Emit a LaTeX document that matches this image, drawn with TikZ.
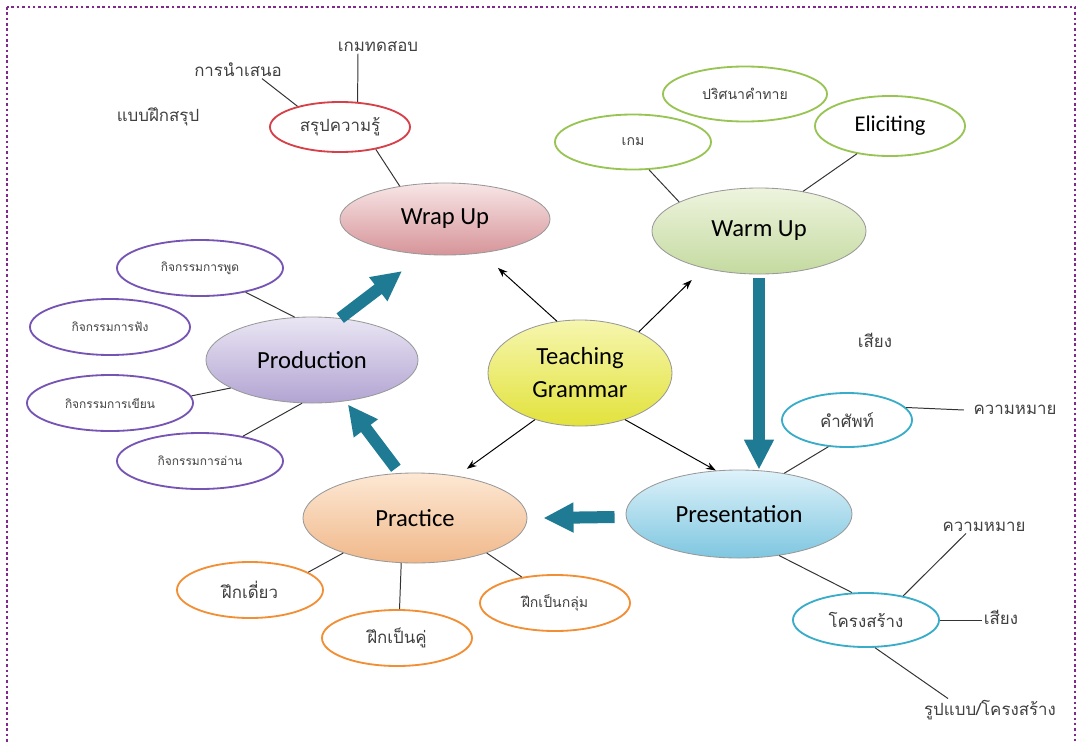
\documentclass[tikz,border=0pt]{standalone}
\usepackage{fontspec}
\setmainfont{Carlito}
\newfontfamily\thaifont[Script=Thai]{Loma}
\usetikzlibrary{shapes.geometric, arrows.meta, calc}

\definecolor{flowteal}{RGB}{31,122,148}
\definecolor{framepurple}{RGB}{128,40,140}
\definecolor{wrapA}{RGB}{248,230,230}
\definecolor{wrapB}{RGB}{214,148,153}
\definecolor{warmA}{RGB}{238,244,222}
\definecolor{warmB}{RGB}{196,218,160}
\definecolor{tgA}{RGB}{246,246,175}
\definecolor{tgB}{RGB}{226,226,60}
\definecolor{prodA}{RGB}{234,230,244}
\definecolor{prodB}{RGB}{178,164,210}
\definecolor{pracA}{RGB}{253,232,212}
\definecolor{pracB}{RGB}{240,184,138}
\definecolor{presA}{RGB}{222,242,250}
\definecolor{presB}{RGB}{126,198,224}
\definecolor{leafred}{RGB}{214,64,72}
\definecolor{leafgreen}{RGB}{152,196,84}
\definecolor{leafpurple}{RGB}{118,84,180}
\definecolor{leaforange}{RGB}{242,142,52}
\definecolor{leafcyan}{RGB}{56,172,200}

\newcommand\thaimid{\thaifont\fontsize{12}{14}\selectfont}
\newcommand\thaismall{\thaifont\fontsize{10}{12}\selectfont}
\newcommand\thaitiny{\thaifont\fontsize{8.5}{10}\selectfont}

\tikzset{
  topic/.style={ellipse, draw=black!40, line width=0.6pt, inner sep=0pt, font=\fontsize{17.5}{23.5}\selectfont},
  leaf/.style={ellipse, draw, line width=1.3pt, fill=white, inner sep=0pt, text=black!75},
  leaftext/.style={text=black!75, inner sep=1pt},
  link/.style={black!80, line width=0.7pt},
  pointer/.style={-{Stealth[length=7pt,width=5pt]}, black, line width=0.7pt},
  flow/.style={-{Triangle[length=0.75cm,width=0.7cm]}, flowteal, line width=0.3cm},
}

\begin{document}
\begin{tikzpicture}[x=0.025cm, y=-0.025cm]
	\useasboundingbox (0,0) rectangle (1080,744);
	\draw[framepurple, line width=1.8pt, dotted] (7,7) rectangle (1075,770);

	% stages
	\node[topic, top color=wrapA, bottom color=wrapB, minimum width=5.25cm, minimum height=1.8cm] (wrapup) at (445,219) {Wrap Up};
	\node[topic, top color=warmA, bottom color=warmB, minimum width=5.35cm, minimum height=2.15cm] (warmup) at (759,231) {Warm Up};
	\node[topic, top color=tgA, bottom color=tgB, minimum width=4.6cm, minimum height=2.65cm, align=center] (grammar) at (580,373) {Teaching\\Grammar};
	\node[topic, top color=prodA, bottom color=prodB, minimum width=5.3cm, minimum height=2.15cm] (production) at (312,360) {Production};
	\node[topic, top color=pracA, bottom color=pracB, minimum width=5.6cm, minimum height=2.25cm] (practice) at (415,518) {Practice};
	\node[topic, top color=presA, bottom color=presB, minimum width=5.65cm, minimum height=2.2cm] (presentation) at (739,514) {Presentation};

	% wrap up
	\node[leaf, draw=leafred, minimum width=3.5cm, minimum height=1.25cm, font=\thaimid] (sarup) at (340,127) {สรุปความรู้};
	\node[leaftext, font=\thaimid] (kemtest) at (378,47) {เกมทดสอบ};
	\node[leaftext, font=\thaimid] (namesanoe) at (238,70) {การนำเสนอ};
	\node[leaftext, font=\thaimid] (baepfuek) at (158,117) {แบบฝึกสรุป};

	% warm up
	\node[leaf, draw=leafgreen, minimum width=3.9cm, minimum height=1.375cm, font=\thaismall] (kem) at (633,142) {เกม};
	\node[leaf, draw=leafgreen, minimum width=4.1cm, minimum height=1.375cm, font=\thaismall] (prisana) at (745,94) {ปริศนาคำทาย};
	\node[leaf, draw=leafgreen, minimum width=3.75cm, minimum height=1.5cm, text=black, font=\fontsize{16}{18}\selectfont] (eliciting) at (890,126) {Eliciting};

	% production
	\node[leaf, draw=leafpurple, minimum width=4.15cm, minimum height=1.4cm, font=\thaitiny] (phut) at (200,268) {กิจกรรมการพูด};
	\node[leaf, draw=leafpurple, minimum width=4.0cm, minimum height=1.4cm, font=\thaitiny] (fang) at (110,327) {กิจกรรมการฟัง};
	\node[leaf, draw=leafpurple, minimum width=4.15cm, minimum height=1.4cm, font=\thaitiny] (khian) at (110,403) {กิจกรรมการเขียน};
	\node[leaf, draw=leafpurple, minimum width=4.15cm, minimum height=1.4cm, font=\thaitiny] (an) at (200,461) {กิจกรรมการอ่าน};

	% practice
	\node[leaf, draw=leaforange, minimum width=3.65cm, minimum height=1.4cm, font=\thaimid] (diao) at (250,590) {ฝึกเดี่ยว};
	\node[leaf, draw=leaforange, minimum width=3.75cm, minimum height=1.4cm, font=\thaimid] (khu) at (397,638) {ฝึกเป็นคู่};
	\node[leaf, draw=leaforange, minimum width=3.75cm, minimum height=1.4cm, font=\thaismall] (klum) at (555,603) {ฝึกเป็นกลุ่ม};

	% presentation
	\node[leaf, draw=leafcyan, minimum width=3.25cm, minimum height=1.35cm, font=\thaimid] (kamsap) at (847,420) {คำศัพท์};
	\node[leaf, draw=leafcyan, minimum width=3.65cm, minimum height=1.35cm, font=\thaimid] (khrongsang) at (866,620) {โครงสร้าง};
	\node[leaftext, font=\thaimid] (siang) at (875,340) {เสียง};
	\node[leaftext, font=\thaimid] (khwammai) at (1015,410) {ความหมาย};
	\node[leaftext, font=\thaimid] (khwammaib) at (984,527) {ความหมาย};
	\node[leaftext, font=\thaimid] (siangb) at (1001,617) {เสียง};
	\node[leaftext, font=\thaimid] (rupbaep) at (990,710) {รูปแบบ/โครงสร้าง};

	% links
	\draw[link] ([xshift=-0.5cm]kemtest.south) -- (sarup.55);
	\draw[link] ([xshift=0.6cm]namesanoe.south) -- (sarup.154);
	\draw[link] (sarup.-32) -- (wrapup.144);
	\draw[link] (kem.-60) -- (warmup.160);
	\draw[link] (eliciting.-140) -- (warmup.42);
	\draw[link] (phut.-28) -- (production.112);
	\draw[link] (khian.5) -- (production.199);
	\draw[link] (an.30) -- (production.257);
	\draw[link] (diao.17) -- (practice.206);
	\draw[link] (khu.85) -- (practice.253);
	\draw[link] (klum.142) -- (practice.-26);
	\draw[link] (kamsap.-125) -- (presentation.42);
	\draw[link] (kamsap.12) -- ([xshift=-0.2cm]khwammai.west);
	\draw[link] (presentation.-46) -- (khrongsang.117);
	\draw[link] (khrongsang.33) -- ([xshift=-0.45cm]khwammaib.south);
	\draw[link] (khrongsang.east) -- (siangb.west |- khrongsang.east);
	\draw[link] (khrongsang.-72) -- ([xshift=-1.05cm]rupbaep.north);

	% from the centre
	\draw[pointer, shorten >=0.55cm] (grammar.114) -- (wrapup.-43);
	\draw[pointer, shorten >=0.42cm] (grammar.35) -- (warmup.-146);
	\draw[pointer, shorten >=0.3cm] (grammar.-134) -- (practice.45);
	\draw[pointer] (grammar.-46) -- (presentation.118);

	% teaching cycle
	\draw[flow, shorten <=0.1cm] (warmup.south) -- (warmup.south |- presentation.north);
	\draw[flow] ([xshift=-0.275cm,yshift=-0.075cm]presentation.west) -- ([xshift=0.4cm]practice.east);
	\draw[flow, shorten <=0.15cm, shorten >=0.1cm] (practice.109) -- (production.-51);
	\draw[flow, shorten >=0.675cm] (production.56) -- (wrapup.-121);
\end{tikzpicture}
\end{document}
